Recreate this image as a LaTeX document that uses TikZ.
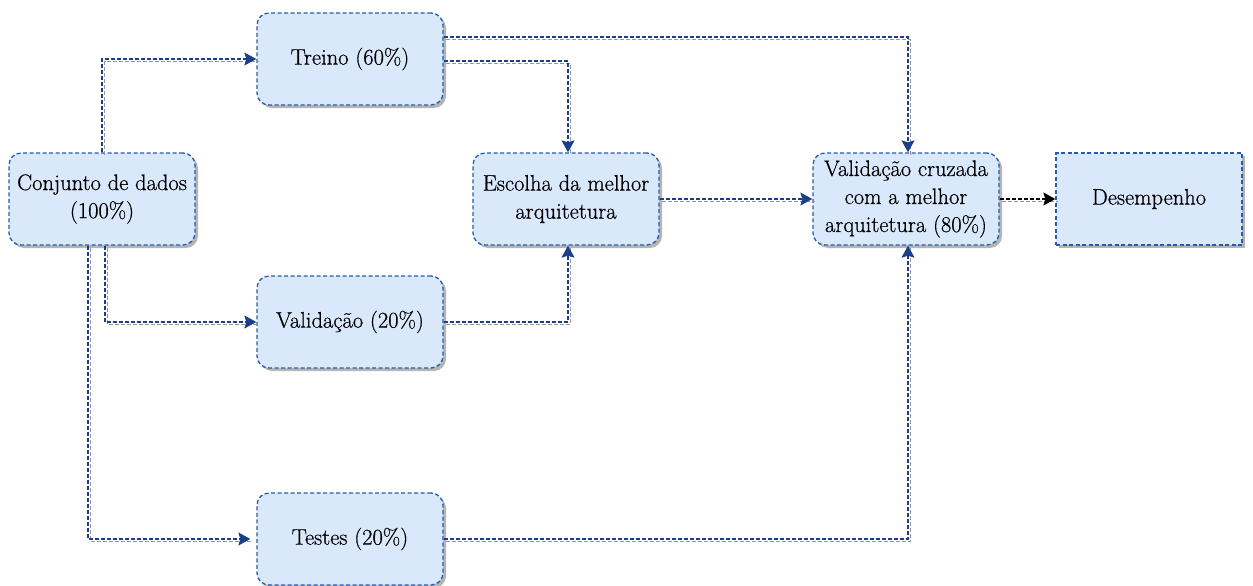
\documentclass[tikz,border=0pt]{standalone}
\usepackage{fontspec}
\newfontfamily\boxfont{Latin Modern Roman}[FakeBold=0.6]
\usetikzlibrary{arrows.meta,shadows,calc}
\definecolor{boxfill}{RGB}{218,232,252}
\definecolor{boxline}{RGB}{40,90,175}
\definecolor{linkblue}{RGB}{26,62,138}
\definecolor{shadegray}{RGB}{150,150,150}
\begin{document}
\begin{tikzpicture}[x=1pt,y=-1pt,
  box/.style={draw=boxline, fill=boxfill, line width=1.3pt,
    dash pattern=on 4pt off 2.5pt, rounded corners=12pt,
    minimum width=186pt, minimum height=92pt, inner sep=2pt,
    align=center, font=\boxfont\fontsize{22.5}{28}\selectfont,
    drop shadow={shadow xshift=3pt, shadow yshift=-3pt, fill=shadegray, opacity=0.7}},
  link/.style={draw=linkblue, line width=1.2pt, dash pattern=on 4pt off 2pt,
    -{Stealth[length=12pt,width=13pt,inset=2pt]},
    preaction={draw=shadegray, line width=1.1pt, dash pattern=on 4pt off 2pt, -,
      transform canvas={shift={(2.5pt,-2.5pt)}}}},
  ]
\useasboundingbox (0,0) rectangle (1253,586);

% stages of the data split
\node[box] (conj) at (102,199) {Conjunto de dados\\(100\%)};
\node[box] (treino) at (350,59) {Treino (60\%)};
\node[box] (valid) at (350,322) {Validação (20\%)};
\node[box] (testes) at (350,539) {Testes (20\%)};
\node[box] (escolha) at (566,199) {Escolha da melhor\\arquitetura};
\node[box] (cruz) at (906,199) {Validação cruzada\\com a melhor\\arquitetura (80\%)};
\node[box, rounded corners=0pt] (desemp) at (1149,199) {Desempenho};

% connectors
\draw[link] (conj.north) |- (treino.west);
\draw[link] ([xshift=3pt]conj.south) |- (valid.west);
\draw[link] ([xshift=-14pt]conj.south) |- ([xshift=-6pt]testes.west);
\draw[link] ([yshift=22pt]treino.east) -| ([xshift=2pt]cruz.north);
\draw[link] ([yshift=-2pt]treino.east) -| ([xshift=2pt]escolha.north);
\draw[link] (valid.east) -| ([xshift=2pt]escolha.south);
\draw[link] (escolha.east) -- (cruz.west);
\draw[link] (testes.east) -| ([xshift=2pt]cruz.south);
\draw[link, draw=black] (cruz.east) -- (desemp.west);
\end{tikzpicture}
\end{document}
